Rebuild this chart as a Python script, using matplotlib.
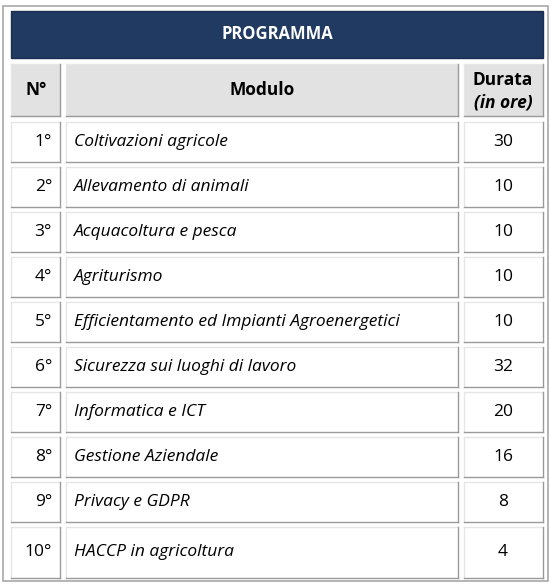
import matplotlib.pyplot as plt
from matplotlib.patches import Rectangle

title = "PROGRAMMA"
headers = ["N°", "Modulo", "Durata"]
numbers = ["1°", "2°", "3°", "4°", "5°", "6°", "7°", "8°", "9°", "10°"]
modules = ["Coltivazioni agricole", "Allevamento di animali", "Acquacoltura e pesca",
           "Agriturismo", "Efficientamento ed Impianti Agroenergetici",
           "Sicurezza sui luoghi di lavoro", "Informatica e ICT", "Gestione Aziendale",
           "Privacy e GDPR", "HACCP in agricoltura"]
hours = [30, 10, 10, 10, 10, 32, 20, 16, 8, 4]

plt.rcParams['font.family'] = ['Open Sans', 'DejaVu Sans']
fig = plt.figure(figsize=(5.51, 5.85), dpi=100)
ax = fig.add_axes([0, 0, 1, 1])
ax.set_xlim(0, 551)
ax.set_ylim(585, 0)
ax.axis('off')

fs = 12.5


def cell(x0, y0, x1, y1, fill):
    ax.add_patch(Rectangle((x0, y0), x1 - x0, y1 - y0, facecolor=fill, edgecolor='none'))
    ax.plot([x0, x1], [y0, y0], color='#e6e6e6', lw=1)
    ax.plot([x0, x0], [y0, y1], color='#e6e6e6', lw=1)
    ax.plot([x0, x1], [y1, y1], color='#9a9a9a', lw=1)
    ax.plot([x1, x1], [y0, y1], color='#9a9a9a', lw=1)


# outer frame
ax.add_patch(Rectangle((3, 6), 545, 575, facecolor='white', edgecolor='#a8a8a8', lw=1.2))

cols = [(11, 60), (66, 458), (464, 543)]

# title band
ax.add_patch(Rectangle((11, 11), 532, 47, facecolor='#213a62', edgecolor='#1a2f50'))
ax.text(277, 34, title, color='white', fontsize=12, fontweight='bold', ha='center', va='center')

# header row
for (x0, x1) in cols:
    cell(x0, 64, x1, 116, '#e2e2e2')
ax.text(36, 90, headers[0], fontsize=fs, fontweight='bold', ha='center', va='center')
ax.text(262, 90, headers[1], fontsize=fs, fontweight='bold', ha='center', va='center')
ax.text(503, 80, headers[2], fontsize=fs, fontweight='bold', ha='center', va='center')
ax.text(503, 102, "(in ore)", fontsize=fs, fontweight='bold', style='italic', ha='center', va='center')

# data rows
for i, (n, m, h) in enumerate(zip(numbers, modules, hours)):
    y0 = 122 + 45 * i
    y1 = y0 + 40 if i < 9 else 578
    for (x0, x1) in cols:
        cell(x0, y0, x1, y1, 'white')
    yc = (y0 + y1) / 2
    ax.text(52, yc, n, fontsize=fs, ha='right', va='center')
    ax.text(74, yc, m, fontsize=fs, style='italic', ha='left', va='center')
    ax.text(503, yc, str(h), fontsize=fs, ha='center', va='center')

fig.savefig('out.png', dpi=100)
